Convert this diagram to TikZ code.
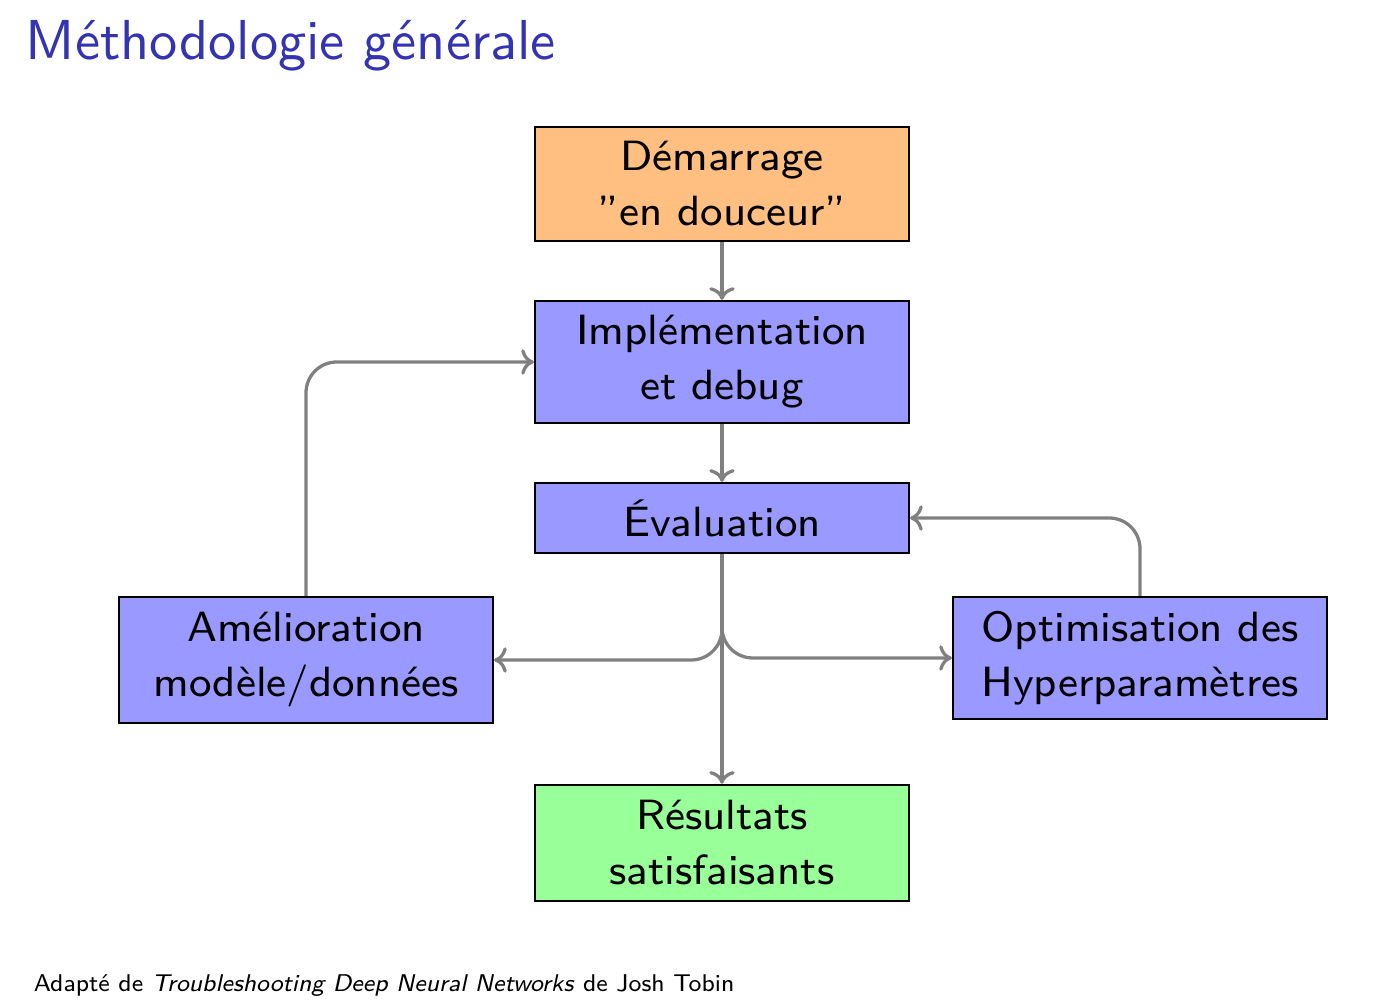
\documentclass[tikz,border=0pt]{standalone}
\usepackage{fontspec}
\setsansfont{lmsans8}[Extension=.otf, UprightFont=*-regular, ItalicFont=*-oblique, BoldFont=lmsans10-bold, BoldItalicFont=lmsans10-boldoblique]
\newfontfamily\lmsansten{lmsans10}[Extension=.otf, UprightFont=*-regular, ItalicFont=*-oblique]
\usetikzlibrary{arrows.meta}
\definecolor{titleblue}{RGB}{51,51,179}
\definecolor{boxblue}{RGB}{153,153,255}
\definecolor{boxorange}{RGB}{255,191,128}
\definecolor{boxgreen}{RGB}{153,255,153}
\definecolor{arrowgray}{RGB}{128,128,128}
\tikzset{
  box/.style={draw=black, line width=0.6pt, minimum width=97.2pt, align=center,
    inner sep=0pt, font=\sffamily\fontsize{11}{14.3}\selectfont},
  flow/.style={draw=arrowgray, line width=0.85pt, -{To[length=3.3pt,width=6.6pt]}, rounded corners=8pt},
}
\begin{document}
\begin{tikzpicture}[x=0.26pt,y=-0.26pt]
\useasboundingbox (0,0) rectangle (1396,1000);
\node[anchor=base west, text=titleblue, font=\lmsansten\fontsize{14.65}{18}\selectfont, inner sep=0pt] (title) at (25,60) {Méthodologie générale};
\node[box, fill=boxorange, minimum height=29.6pt] (start) at (722,184) {Démarrage\\”en douceur”};
\node[box, fill=boxblue, minimum height=31.7pt] (impl) at (722,362) {Implémentation\\et debug};
\node[box, fill=boxblue, minimum height=18.2pt] (eval) at (722,518) {Évaluation};
\node[box, fill=boxblue, minimum height=32.8pt] (amel) at (306,660) {Amélioration\\modèle/données};
\node[box, fill=boxblue, minimum height=31.7pt] (optim) at (1140,658) {Optimisation des\\Hyperparamètres};
\node[box, fill=boxgreen, minimum height=30.2pt] (res) at (722,843) {Résultats\\satisfaisants};
\node[anchor=base west, inner sep=0pt, font=\sffamily\fontsize{6.3}{7.5}\selectfont] (foot) at (33,992) {Adapté de \textit{Troubleshooting Deep Neural Networks} de Josh Tobin};
\draw[flow] (start) -- (impl);
\draw[flow] (impl) -- (eval);
\draw[flow] (eval) -- (res);
\draw[flow] (eval.south) |- (amel.east);
\draw[flow] (eval.south) |- (optim.west);
\draw[flow] (amel.north) |- (impl.west);
\draw[flow] (optim.north) |- (eval.east);
\end{tikzpicture}
\end{document}
